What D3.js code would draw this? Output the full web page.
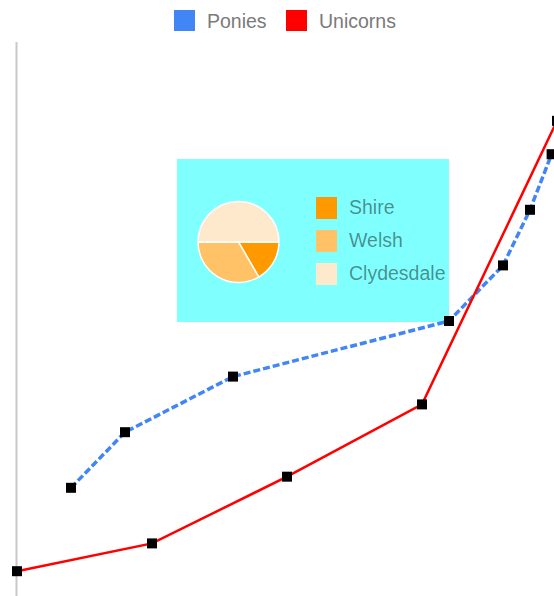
<!DOCTYPE html>
<html>
<head>
<meta charset="utf-8">
<script src="https://cdn.jsdelivr.net/npm/d3@7"></script>
<style>
  body { margin: 0; background: #fff; }
  svg { display: block; font-family: 'Liberation Sans', Arial, sans-serif; }
</style>
</head>
<body>
<svg width="554" height="596"></svg>
<script>

const seriesNames = ['Ponies', 'Unicorns']
const seriesColors = ['#4285f4', '#ff0000']

const poniesX = [2, 4, 8, 16, 18, 19, 19.8]
const poniesY = [2, 3, 4, 5, 6, 7, 8]
const unicornsX = [0, 5, 10, 15, 20]
const unicornsY = [0.5, 1, 2.2, 3.5, 8.6]

const breeds = ['Shire', 'Welsh', 'Clydesdale']
const breedValues = [1, 2, 3]
const breedColors = ['#ff9900', '#ffc266', '#ffe9cc']

let svg = d3.select('svg')

let x = d3.scaleLinear().domain([0, 20]).range([17, 557])
let y = d3.scaleLinear().domain([0, 10]).range([599, 43])

// vertical axis line only, no ticks
svg.append('line')
  .attr('x1', 16.5).attr('x2', 16.5)
  .attr('y1', y(10) - 1).attr('y2', 596)
  .attr('stroke', '#c8c8c8')
  .attr('stroke-width', 2)

// top legend
let legend = svg.append('g')
let legX = [174, 286]
seriesNames.forEach((name, i) => {
  legend.append('rect')
    .attr('x', legX[i]).attr('y', 10)
    .attr('width', 21).attr('height', 21)
    .attr('fill', seriesColors[i])
  legend.append('text')
    .attr('x', legX[i] + 33).attr('y', 28)
    .attr('font-size', 19.5)
    .attr('fill', '#7a7a7a')
    .text(name)
})

// inset box with pie
let inset = svg.append('g')
inset.append('rect')
  .attr('x', 177).attr('y', 159)
  .attr('width', 272).attr('height', 163)
  .attr('fill', '#80ffff')

let pie = d3.pie().sort(null).startAngle(Math.PI / 2).endAngle(Math.PI / 2 + 2 * Math.PI)
let arc = d3.arc().innerRadius(0).outerRadius(40.5)

inset.append('g')
  .attr('transform', 'translate(238.5,242)')
  .selectAll('path')
  .data(pie(breedValues))
  .enter().append('path')
  .attr('d', arc)
  .attr('fill', (d, i) => breedColors[i])
  .attr('stroke', '#fff')
  .attr('stroke-width', 1.5)

breeds.forEach((b, i) => {
  inset.append('rect')
    .attr('x', 316).attr('y', 197 + i * 33)
    .attr('width', 21).attr('height', 22)
    .attr('fill', breedColors[i])
  inset.append('text')
    .attr('x', 349).attr('y', 214 + i * 33)
    .attr('font-size', 19.5)
    .attr('fill', '#000')
    .attr('fill-opacity', 0.45)
    .text(b)
})

let ponies = poniesX.map((v, i) => [v, poniesY[i]])
let unicorns = unicornsX.map((v, i) => [v, unicornsY[i]])

let line = d3.line().x(d => x(d[0])).y(d => y(d[1]))

svg.append('path')
  .datum(ponies)
  .attr('d', line)
  .attr('fill', 'none')
  .attr('stroke', seriesColors[0])
  .attr('stroke-width', 3.5)
  .attr('stroke-dasharray', '7,3')

svg.append('path')
  .datum(unicorns)
  .attr('d', line)
  .attr('fill', 'none')
  .attr('stroke', seriesColors[1])
  .attr('stroke-width', 2.5)

svg.append('g')
  .selectAll('rect')
  .data(ponies.concat(unicorns))
  .enter().append('rect')
  .attr('x', d => x(d[0]) - 5)
  .attr('y', d => y(d[1]) - 5)
  .attr('width', 10).attr('height', 10)
  .attr('fill', '#000')

</script>
</body>
</html>
